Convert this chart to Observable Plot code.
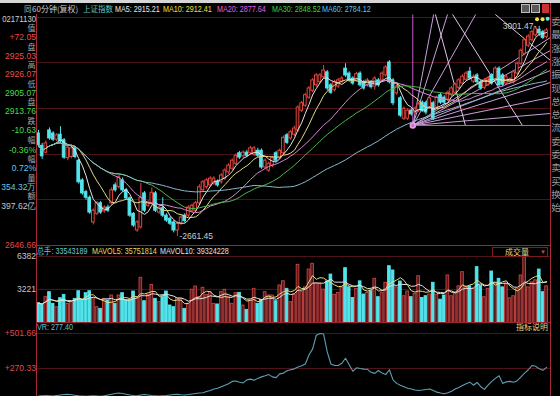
<!DOCTYPE html>
<html><head><meta charset="utf-8">
<script src="https://cdn.jsdelivr.net/npm/d3@7"></script>
<script src="https://cdn.jsdelivr.net/npm/@observablehq/plot@0.6"></script>
<style>
body{margin:0;background:#000;}
#root{position:relative;width:560px;height:396px;background:#000;overflow:hidden;font-family:"Liberation Sans",Arial,sans-serif;}
.t{position:absolute;white-space:nowrap;line-height:1;}
.p{position:absolute;left:0;}
.ln{position:absolute;}
</style></head><body><div id="root"></div>
<script>
// ---------- DATA ----------
const open = [2828,2808,2797,2833,2828,2818,2826,2817,2788,2790, 2804,2784,2752,2733,2724,2684,2698,2715,2702,2708, 2715,2744,2741,2752,2736,2723,2698,2671,2676,2731, 2711,2715,2731,2700,2707,2695,2690,2684,2671,2682, 2695,2695,2703,2703,2715,2736,2741,2744,2747,2750, 2749,2755,2765,2771,2779,2796,2791,2797,2796,2794, 2800,2800,2773,2768,2776,2796,2788,2796,2825,2820, 2826,2833,2865,2873,2886,2897,2906,2911,2919,2927, 2906,2898,2904,2912,2933,2925,2917,2914,2925,2911, 2906,2911,2904,2914,2914,2922,2943,2914,2893,2885, 2852,2852,2865,2862,2865,2878,2877,2870,2877,2870, 2890,2886,2883,2890,2894,2902,2909,2915,2928,2912, 2922,2911,2902,2907,2922,2914,2933,2922,2909,2911, 2911,2925,2941,2957,2970,2979,2987,2996,2992,2984];
const close = [2809,2791,2812,2820,2818,2825,2815,2789,2805,2804, 2790,2749,2731,2724,2700,2703,2715,2700,2708,2703, 2736,2736,2757,2736,2723,2695,2679,2684,2724,2703, 2716,2732,2703,2708,2695,2687,2682,2671,2682,2692, 2686,2708,2711,2715,2741,2749,2752,2755,2755,2744, 2760,2768,2776,2784,2792,2789,2797,2792,2804,2804, 2792,2773,2784,2779,2788,2784,2800,2821,2813,2830, 2836,2870,2877,2890,2901,2914,2922,2922,2930,2901, 2894,2911,2914,2917,2922,2914,2909,2924,2906,2901, 2914,2903,2917,2906,2925,2935,2911,2877,2904,2857, 2868,2865,2859,2868,2875,2865,2862,2885,2852,2886, 2878,2878,2894,2901,2907,2914,2920,2925,2917,2920, 2911,2901,2914,2917,2909,2933,2906,2907,2919,2915, 2927,2941,2962,2979,2985,2992,2998,2990,2983,2995];
const high = [2833,2812,2816,2837,2831,2828,2839,2820,2808,2810, 2807,2786,2755,2736,2727,2706,2718,2718,2711,2712, 2740,2748,2760,2756,2739,2725,2700,2687,2747,2734, 2719,2740,2734,2711,2724,2698,2693,2687,2685,2695, 2698,2711,2714,2718,2745,2752,2755,2758,2758,2753, 2763,2771,2779,2787,2795,2799,2800,2801,2807,2807, 2804,2803,2787,2782,2791,2799,2803,2824,2828,2833, 2840,2873,2880,2893,2904,2917,2925,2925,2938,2930, 2909,2914,2917,2920,2941,2928,2920,2927,2928,2914, 2917,2914,2920,2917,2928,2938,2946,2917,2907,2888, 2871,2868,2868,2871,2878,2881,2880,2888,2880,2889, 2893,2889,2897,2904,2910,2917,2923,2928,2935,2923, 2925,2914,2917,2920,2925,2936,2936,2925,2922,2918, 2930,2944,2965,2982,2988,2995,3000,3001.47,2995,2998];
const low = [2805,2786,2795,2817,2815,2815,2812,2786,2784,2787, 2787,2746,2728,2720,2697,2680,2695,2697,2699,2700, 2712,2733,2738,2733,2720,2692,2676,2668,2673,2700, 2708,2712,2700,2697,2692,2684,2679,2667,2661.45,2679, 2683,2692,2700,2700,2712,2733,2738,2741,2744,2741, 2746,2752,2762,2768,2776,2786,2788,2789,2793,2791, 2789,2770,2770,2765,2773,2781,2785,2793,2810,2817, 2823,2830,2862,2870,2883,2894,2903,2908,2916,2897, 2891,2895,2901,2909,2919,2911,2906,2911,2903,2898, 2903,2900,2898,2903,2911,2919,2908,2873,2890,2854, 2849,2849,2856,2859,2862,2862,2858,2867,2849,2867, 2875,2875,2880,2887,2891,2899,2906,2912,2914,2909, 2908,2898,2899,2904,2906,2911,2903,2904,2906,2908, 2908,2922,2938,2954,2967,2976,2984,2985,2980,2981];
const volume = [1900,1745,2480,2960,1840,1520,2380,2700,1840,2000, 2320,3050,2200,2860,3050,2380,1520,1360,2320,2160, 2640,1840,2640,2860,2200,2200,3020,2320,4340,2090, 2700,3660,2320,2000,2480,3020,1680,1520,2380,2320, 1360,1840,3190,3500,2480,3380,2700,2960,1840,1780, 2960,3190,2540,1840,2860,2890,1680,1260,2160,3280, 1840,2200,2960,2640,2640,2090,3600,4010,3280,2000, 2700,5580,2960,3420,5130,5680,3760,3760,3200,3980, 4650,2700,2890,3420,5260,3420,2400,3280,3995,2730, 2890,3050,4240,2480,2860,3860,5450,5040,3420,3980, 2570,3020,2480,2800,4490,2400,2570,2730,3860,2700, 2240,2640,4560,2570,2800,3520,4880,3520,3520,3280, 5360,3580,2480,3280,4940,3900,4240,3420,3760,2370, 2570,3280,4560,6315,3420,3900,4100,5130,2960,3520];
const vr = [88,90,92,90,88,92,95,98,100,97, 93,90,88,86,88,90,88,86,90,95, 100,105,108,105,100,95,92,90,95,98, 95,92,90,88,90,92,95,98,100,97, 95,98,102,105,108,110,118,125,135,140, 150,160,170,185,188,180,175,195,200,192, 205,215,222,230,215,210,235,240,255,262, 268,280,288,300,360,400,490,501.66,498,380, 300,290,290,305,338,295,252,275,270,266, 265,245,238,257,240,230,262,195,172,160, 150,140,135,128,125,128,132,135,125,114, 108,103,110,120,135,145,158,170,180,160, 178,150,132,160,185,205,222,172,182,185, 180,190,215,240,262,290,285,268,258,277.4];

const priceGrid = [3015.8, 2943.0, 2868.5, 2794.0, 2721.1];
const volGrid = [6382, 3221];
const vrGrid = [501.66, 270.33];

const maPeriods = [5, 10, 20, 30, 60];
const maColors = ["#e4e4e4", "#e2d98a", "#d48ad2", "#4cb84c", "#86bccc"];
const mavolPeriods = [5, 10];
const mavolColors = ["#e6dc78", "#e2e2e2"];

// Gann / line-study drawings, [i1, p1, i2, p2] in bar index and price
const gannFrame = [[102.4, 2841, 102.4, 3020.7], [102.4, 2841, 140.08, 2841]];
const gannFan = [[102.4, 2841, 108.1, 3020.7], [102.4, 2841, 111.9, 3020.7], [102.4, 2841, 119.6, 3020.7],
  [102.4, 2841, 140.08, 2983.5], [102.4, 2841, 140.08, 2962.4], [102.4, 2841, 140.08, 2930.0],
  [102.4, 2841, 140.08, 2910.6], [102.4, 2841, 140.08, 2886.3], [102.4, 2841, 140.08, 2860.4]];
const gannCross = [[108.6, 3020.7, 116.8, 2841], [113.3, 3020.7, 132.4, 2841], [125.0, 3020.7, 140.08, 2946.2]];

const lowLabel = [{i: 38, p: 2661.45, text: "-2661.45"}];
const highLabel = [{i: 137, p: 3001.47, text: "3001.47-"}];
const markers = [{i: 136.4, p: 3013, c: "#f2e63c"}, {i: 137.9, p: 3013, c: "#f2e63c"}, {i: 139.3, p: 3014, c: "#66e6f0"}];

const headerItems = [
  ["同", 24, "#b4b4b4", true, 7.5, 1],
  ["60分钟(复权)", 32, "#c8c8c8", true, 8, 1],
  ["上证指数", 83, "#5cc4cc", true, 7.5, 1],
  ["MA5: 2915.21", 115, "#e8e8e8", false, 9, 0.8],
  ["MA10: 2912.41", 163, "#e8e040", false, 9, 0.8],
  ["MA20: 2877.64", 217, "#e060e0", false, 9, 0.8],
  ["MA30: 2848.52", 272, "#40d040", false, 9, 0.8],
  ["MA60: 2784.12", 322, "#5cc0e8", false, 9, 0.8]
];
const leftItems = [
  ["02171130", 18.5, "#d0d0d0", false, 0.86], ["值", 27.5, "#a4a4a4", true], ["+72.05", 37, "#f04848", false],
  ["盘", 46.5, "#a4a4a4", true], ["2925.03", 56, "#f04848", false], ["高", 65, "#a4a4a4", true],
  ["2926.07", 74, "#f04848", false], ["低", 84, "#a4a4a4", true], ["2905.07", 93, "#48dc48", false],
  ["盘", 102, "#a4a4a4", true], ["2913.76", 111, "#48dc48", false], ["跌", 120.5, "#a4a4a4", true],
  ["-10.63", 130, "#48dc48", false], ["幅", 140, "#a4a4a4", true], ["-0.36%", 149.5, "#48dc48", false],
  ["幅", 159, "#a4a4a4", true], ["0.72%", 168, "#64c8e8", false], ["量", 177.5, "#a4a4a4", true],
  ["354.32万", 186.5, "#64c8e8", false], ["额", 196, "#a4a4a4", true], ["397.62亿", 205.5, "#c8c8c8", false],
  ["2646.66", 245, "#e04848", false], ["6382", 256, "#c4c4c4", false], ["3221", 289, "#c4c4c4", false],
  ["+501.66", 333, "#e04848", false], ["+270.33", 368, "#e04848", false]
];
const rightChars = ["委","最","涨","涨","振","现","总","总","流","委","委","卖","买","换","始"];
const volHeader = [["总手: 33543189", 37, "#60c8d8"], ["MAVOL5: 35751814", 92, "#e6dc60"], ["MAVOL10: 39324228", 160, "#e0e0e0"]];
const vrHeader = [["VR: 277.40", 37, "#60c0d0"]];

// ---------- BUILD ----------
const RED = "#e4463e", CYAN = "#52e4ec", GRID = "#4e121a", FRAME = "#a82c38";
const bars = open.map((o, i) => ({i, o, c: close[i], h: high[i], l: low[i], v: volume[i], vr: vr[i], up: close[i] >= o}));
const toLink = (arr, color) => arr.map(([i1, p1, i2, p2]) => ({i1, p1, i2, p2, color}));
const gann = [...toLink(gannFan, "#c9a0dc"), ...toLink(gannCross, "#e2c6e6"), ...toLink(gannFrame, "#c45cc4")];

const root = document.getElementById("root");
const xOpt = {domain: [-0.55, 140.08], axis: null};
const common = {width: 560, marginLeft: 36, marginRight: 10, style: {background: "transparent", overflow: "visible"}, color: {type: "identity"}};
const font = '"Liberation Sans", Arial, sans-serif';

const mainPlot = Plot.plot({
  ...common, height: 246, marginTop: 13, marginBottom: 1,
  x: xOpt, y: {domain: [2646.66, 3022.3], axis: null},
  marks: [
    Plot.ruleY(priceGrid, {stroke: GRID}),
    Plot.link(gann, {x1: "i1", y1: "p1", x2: "i2", y2: "p2", stroke: "color", strokeWidth: 1}),
    Plot.ruleX(bars, {x: "i", y1: "l", y2: "h", stroke: d => d.up ? RED : CYAN}),
    Plot.rect(bars, {x1: d => d.i - 0.36, x2: d => d.i + 0.36, y1: "o", y2: "c",
      fill: d => d.up ? "#000000" : CYAN, stroke: d => d.up ? RED : CYAN, strokeWidth: 1}),
    ...maPeriods.map((k, j) => Plot.lineY(bars, Plot.windowY({k, anchor: "end"}, {x: "i", y: "c", stroke: maColors[j], strokeWidth: 1}))),
    Plot.dot([{i: gannFrame[0][0], p: gannFrame[0][1]}], {x: "i", y: "p", r: 2.5, fill: "#d070d0", stroke: "#e8a0e8"}),
    Plot.dot(markers, {x: "i", y: "p", r: 2, fill: "c"}),
    Plot.text(lowLabel, {x: "i", y: "p", text: "text", textAnchor: "start", dx: 2, fill: "#cfcfcf", fontSize: 8.5, fontFamily: font}),
    Plot.text(highLabel, {x: "i", y: "p", text: "text", textAnchor: "end", dx: -3, fill: "#cfcfcf", fontSize: 8.5, fontFamily: font})
  ]
});

const volPlot = Plot.plot({
  ...common, height: 77, marginTop: 10, marginBottom: 0.5,
  x: xOpt, y: {domain: [0, 6382], axis: null},
  marks: [
    Plot.ruleY(volGrid, {stroke: GRID}),
    Plot.rect(bars, {x1: d => d.i - 0.37, x2: d => d.i + 0.37, y1: d => 0, y2: "v",
      fill: d => d.up ? "#5a1a1c" : CYAN, stroke: d => d.up ? "#c44444" : CYAN, strokeWidth: 0.9}),
    ...mavolPeriods.map((k, j) => Plot.lineY(bars, Plot.windowY({k, anchor: "end"}, {x: "i", y: "v", stroke: mavolColors[j], strokeWidth: 1})))
  ]
});

const vrPlot = Plot.plot({
  ...common, height: 73, marginTop: 10, marginBottom: 0,
  x: xOpt, y: {domain: [85.27, 501.66], axis: null},
  marks: [
    Plot.ruleY(vrGrid, {stroke: GRID}),
    Plot.line(bars, {x: "i", y: "vr", stroke: "#5f9fb2", strokeWidth: 1.1})
  ]
});

function place(svg, top) {
  const d = document.createElement("div");
  d.className = "p"; d.style.top = top + "px";
  d.appendChild(svg); root.appendChild(d);
}
place(mainPlot, 0);
place(volPlot, 246);
place(vrPlot, 323);

function box(x, y, w, h, bg, border) {
  const d = document.createElement("div");
  d.className = "ln";
  Object.assign(d.style, {left: x + "px", top: y + "px", width: w + "px", height: h + "px", background: bg || "transparent", boxSizing: "border-box"});
  if (border) d.style.border = "1px solid " + border;
  root.appendChild(d);
}
function txt(s, x, y, o = {}) {
  const d = document.createElement("div");
  d.className = "t"; d.textContent = s;
  d.style.fontSize = (o.size || 9) + "px";
  d.style.color = o.color || "#ccc";
  if (o.cjk) d.style.fontFamily = '"Noto Sans CJK SC", sans-serif';
  const a = o.anchor || "start";
  d.style.left = x + "px"; d.style.top = y + "px";
  d.style.transformOrigin = a === "end" ? "right center" : a === "middle" ? "center center" : "left center";
  const tx = a === "end" ? "-100%" : a === "middle" ? "-50%" : "0";
  d.style.transform = `translate(${tx}, -50%) scaleX(${o.sx || 1})`;
  root.appendChild(d);
}

// frame lines
box(0, 0, 560, 3, "#d6d6d6");
box(36, 14, 1, 382, FRAME);
box(550, 3, 1, 393, FRAME);
box(36, 245, 514, 1, "#9a2430");
box(36, 322, 514, 1, "#9a2430");
// top-right toolbar icons
box(521, 4, 9, 9, "#5a5a5a", "#bdbdbd");
box(531, 4, 9, 9, "#5a5a5a", "#bdbdbd");
box(542, 4, 7, 9, "#c83232");

headerItems.forEach(([s, x, c, cjk, size, sx]) => txt(s, x, 9, {color: c, cjk, size, sx}));
leftItems.forEach(([s, y, c, cjk, sx]) => txt(s, 35.5, y, {color: c, cjk, size: cjk ? 8 : 9, sx: sx || (cjk ? 1 : 0.95), anchor: "end"}));
rightChars.forEach((s, k) => txt(s, 556, 22 + k * 13.3, {color: "#9c9c9c", cjk: true, size: 9.5, anchor: "middle"}));
volHeader.forEach(([s, x, c]) => txt(s, x, 251, {color: c, size: 9, sx: 0.8}));
vrHeader.forEach(([s, x, c]) => txt(s, x, 327, {color: c, size: 9, sx: 0.8}));
box(492, 247, 56, 10, "transparent", "#7c1c22");
txt("成交量", 517, 251.8, {color: "#e2d78c", cjk: true, size: 8, anchor: "middle"});
txt("▼", 543, 251.8, {color: "#e03a3a", size: 6, anchor: "middle"});
txt("指标说明", 548, 327, {color: "#e2d78c", cjk: true, size: 8, anchor: "end"});
</script></body></html>
